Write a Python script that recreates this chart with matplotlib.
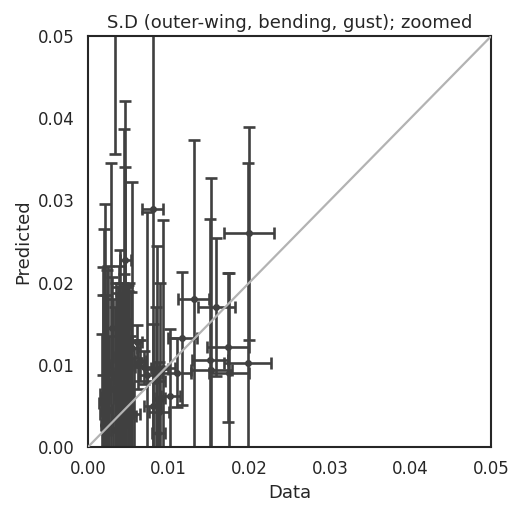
import matplotlib
matplotlib.use("Agg")
from matplotlib import pyplot as plt
import seaborn as sns

# data values (x = measured S.D, y = predicted S.D) with error bars
dataX = [0.0200, 0.0198, 0.0173, 0.0175, 0.0151, 0.0153, 0.0159, 0.0131,
         0.0117, 0.0110, 0.0102, 0.0093, 0.0080, 0.0088, 0.0073,
         0.0034, 0.0046, 0.0045, 0.0046, 0.0028, 0.0055, 0.0021, 0.0020,
         0.0019, 0.0017, 0.0019, 0.0036, 0.0030, 0.0041, 0.0050, 0.0052,
         0.0039, 0.0025, 0.0033, 0.0043, 0.0048, 0.0061, 0.0062, 0.0065,
         0.0070, 0.0085, 0.0089, 0.0080, 0.0087, 0.0023, 0.0038, 0.0044,
         0.0035, 0.0037, 0.0040, 0.0042, 0.0047, 0.0049, 0.0051, 0.0053,
         0.0031, 0.0026, 0.0022, 0.0018, 0.0057, 0.0084]
dataY = [0.0260, 0.0102, 0.0121, 0.0090, 0.0106, 0.0094, 0.0170, 0.0180,
         0.0132, 0.0090, 0.0062, 0.0096, 0.0289, 0.0043, 0.0088,
         0.0620, 0.0227, 0.0150, 0.0100, 0.0090, 0.0120, 0.0060, 0.0050,
         0.0040, 0.0053, 0.0027, 0.0037, 0.0145, 0.0085, 0.0070, 0.0045,
         0.0060, 0.0100, 0.0020, 0.0030, 0.0115, 0.0128, 0.0100, 0.0105,
         0.0097, 0.0095, 0.0060, 0.0050, 0.0017, 0.0075, 0.0110, 0.0160,
         0.0080, 0.0065, 0.0095, 0.0055, 0.0088, 0.0072, 0.0065, 0.0038,
         0.0070, 0.0045, 0.0085, 0.0065, 0.0040, 0.0080]
errX = [0.0031, 0.0029, 0.0026, 0.0025, 0.0022, 0.0025, 0.0023, 0.0019,
        0.0018, 0.0018, 0.0012, 0.0015, 0.0013, 0.0012, 0.0010,
        0.0008, 0.0007, 0.0006, 0.0005, 0.0005, 0.0006, 0.0005, 0.0004,
        0.0004, 0.0003, 0.0003, 0.0006, 0.0006, 0.0006, 0.0005, 0.0004,
        0.0005, 0.0004, 0.0005, 0.0005, 0.0005, 0.0006, 0.0008, 0.0007,
        0.0012, 0.0014, 0.0007, 0.0010, 0.0008, 0.0004, 0.0005, 0.0006,
        0.0004, 0.0005, 0.0005, 0.0006, 0.0005, 0.0006, 0.0005, 0.0006,
        0.0004, 0.0004, 0.0003, 0.0003, 0.0007, 0.0011]
errY = [0.0130, 0.0244, 0.0091, 0.0122, 0.0171, 0.0233, 0.0084, 0.0194,
        0.0081, 0.0042, 0.0082, 0.0180, 0.0300, 0.0060, 0.0198,
        0.0263, 0.0194, 0.0237, 0.0241, 0.0255, 0.0202, 0.0236, 0.0215,
        0.0179, 0.0085, 0.0060, 0.0150, 0.0062, 0.0100, 0.0120, 0.0090,
        0.0180, 0.0120, 0.0150, 0.0170, 0.0080, 0.0020, 0.0030, 0.0025,
        0.0020, 0.0150, 0.0140, 0.0100, 0.0040, 0.0140, 0.0110, 0.0050,
        0.0120, 0.0130, 0.0105, 0.0140, 0.0110, 0.0125, 0.0135, 0.0150,
        0.0110, 0.0090, 0.0100, 0.0120, 0.0080, 0.0090]

lims = [0.0, 0.05]
ticks = [0.00, 0.01, 0.02, 0.03, 0.04, 0.05]

sns.set_theme(style="white")

fig = plt.figure(figsize=(5.09, 5.09), dpi=100)
ax = fig.add_axes([0.173, 0.122, 0.792, 0.807])

ax.errorbar(dataX, dataY, xerr=errX, yerr=errY, fmt='o', color='#404040',
            markersize=4, elinewidth=1.9, capsize=4.5, capthick=1.9, zorder=2)
ax.plot(lims, lims, color='#b3b3b3', linewidth=1.6, zorder=3)

ax.set_xlim(lims)
ax.set_ylim(lims)
ax.set_xticks(ticks)
ax.set_yticks(ticks)
ax.set_xticklabels(['%.2f' % t for t in ticks], fontsize=12)
ax.set_yticklabels(['%.2f' % t for t in ticks], fontsize=12)
ax.set_title("S.D (outer-wing, bending, gust); zoomed", fontsize=13)
ax.set_xlabel('Data', fontsize=13)
ax.set_ylabel('Predicted', fontsize=13)
for s in ax.spines.values():
    s.set_linewidth(1.5)

fig.savefig('out.png', dpi=100)
